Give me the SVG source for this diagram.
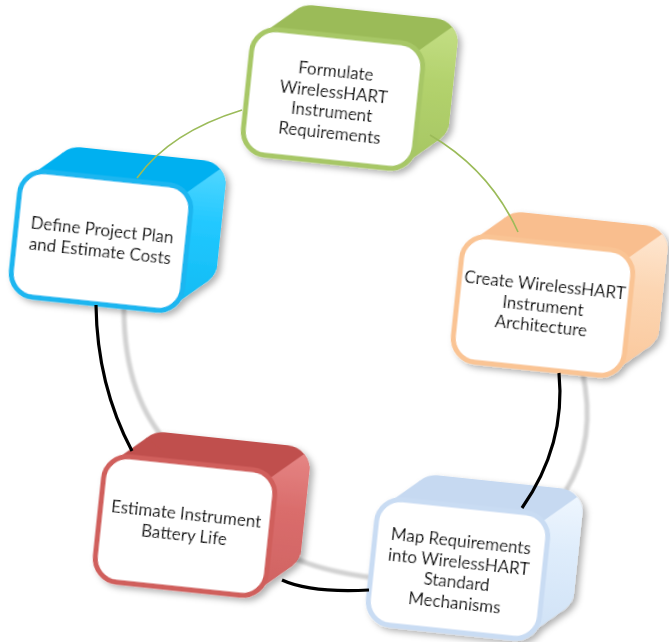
<svg xmlns="http://www.w3.org/2000/svg" xmlns:xlink="http://www.w3.org/1999/xlink" width="669" height="642" viewBox="0 0 669 642">
<style>
.lbl{font-family:Lato,"Liberation Sans",sans-serif;font-size:17px;fill:#111;text-anchor:middle}
.front{fill:#fff;stroke-width:5}
.ring{fill:none;stroke:#d2d2d2;stroke-width:5;stroke-linecap:round}
.gline{fill:none;stroke:#9bbb59;stroke-width:1.6}
.bline{fill:none;stroke:#000;stroke-width:3.2}
</style>
<defs>
<filter id="sh" x="-20%" y="-20%" width="150%" height="150%">
<feDropShadow dx="4" dy="3" stdDeviation="3" flood-color="#000" flood-opacity="0.3"/>
</filter>
<filter id="bl" x="-20%" y="-20%" width="140%" height="140%"><feGaussianBlur stdDeviation="1.2"/></filter>
<g id="hull"><rect x="-54" y="-91" width="172" height="126" rx="24"/><polygon points="-78.97,-55.97 -46.97,-83.97 110.97,27.97 78.97,55.97"/></g>
<path id="rside" d="M78.97,-55.97 L110.97,-83.97 A24,24 0 0 1 118,-67 L118,11 A24,24 0 0 1 110.97,27.97 L78.97,55.97 A24,24 0 0 0 86,39 L86,-39 A24,24 0 0 0 78.97,-55.97 Z"/>
<linearGradient id="gG" x1="0" y1="0" x2="0" y2="1"><stop offset="0" stop-color="#c3de84"/><stop offset="0.4" stop-color="#b3d26d"/><stop offset="1" stop-color="#a6c663"/></linearGradient>
<linearGradient id="gB" x1="0" y1="0" x2="0" y2="1"><stop offset="0" stop-color="#4fd6ff"/><stop offset="0.4" stop-color="#22c8ff"/><stop offset="1" stop-color="#10bbf3"/></linearGradient>
<linearGradient id="gO" x1="0" y1="0" x2="0" y2="1"><stop offset="0" stop-color="#fee6d0"/><stop offset="0.4" stop-color="#fcd6b3"/><stop offset="1" stop-color="#fac89c"/></linearGradient>
<linearGradient id="gR" x1="0" y1="0" x2="0" y2="1"><stop offset="0" stop-color="#e58584"/><stop offset="0.4" stop-color="#da6d6c"/><stop offset="1" stop-color="#d06362"/></linearGradient>
<linearGradient id="gM" x1="0" y1="0" x2="0" y2="1"><stop offset="0" stop-color="#eef6fe"/><stop offset="0.4" stop-color="#deecfb"/><stop offset="1" stop-color="#d0e2f6"/></linearGradient>
</defs>
<g id="shadow-ring" filter="url(#bl)">
<path class="ring" d="M124,300 Q122,390 165,440"/>
<path class="ring" d="M290,556 Q320,571 375,578"/>
<path class="ring" d="M582,370 Q598,440 565,492"/>
</g>
<g id="node-formulate" transform="translate(333,99) rotate(6)" filter="url(#sh)">
<use xlink:href="#hull" fill="#9bbb59"/>
<use xlink:href="#rside" fill="url(#gG)"/>
<rect class="front" x="-86" y="-63" width="172" height="126" rx="24" stroke="#a7c766"/>
<text class="lbl" y="-22"><tspan x="0">Formulate</tspan><tspan x="0" dy="20.5">WirelessHART</tspan><tspan x="0" dy="20.5">Instrument</tspan><tspan x="0" dy="20.5">Requirements</tspan></text>
</g>
<g id="node-define" transform="translate(101,241) rotate(6)" filter="url(#sh)">
<use xlink:href="#hull" fill="#00b0f0"/>
<use xlink:href="#rside" fill="url(#gB)"/>
<rect class="front" x="-86" y="-63" width="172" height="126" rx="24" stroke="#1ab6f0"/>
<text class="lbl" y="-5"><tspan x="0">Define Project Plan</tspan><tspan x="0" dy="20.5">and Estimate Costs</tspan></text>
</g>
<g id="node-create" transform="translate(543,306) rotate(6)" filter="url(#sh)">
<use xlink:href="#hull" fill="#f9be8e"/>
<use xlink:href="#rside" fill="url(#gO)"/>
<rect class="front" x="-86" y="-63" width="172" height="126" rx="24" stroke="#fac494"/>
<text class="lbl" y="-15"><tspan x="0">Create WirelessHART</tspan><tspan x="0" dy="20.5">Instrument</tspan><tspan x="0" dy="20.5">Architecture</tspan></text>
</g>
<g id="node-estimate" transform="translate(185,526) rotate(6)" filter="url(#sh)">
<use xlink:href="#hull" fill="#c0504d"/>
<use xlink:href="#rside" fill="url(#gR)"/>
<rect class="front" x="-86" y="-63" width="172" height="126" rx="24" stroke="#d05e5c"/>
<text class="lbl" y="-6"><tspan x="0">Estimate Instrument</tspan><tspan x="0" dy="20.5">Battery Life</tspan></text>
</g>
<g id="node-map" transform="translate(458,569) rotate(6)" filter="url(#sh)">
<use xlink:href="#hull" fill="#c6d9f1"/>
<use xlink:href="#rside" fill="url(#gM)"/>
<rect class="front" x="-86" y="-63" width="172" height="126" rx="24" stroke="#c9dcf3"/>
<text class="lbl" y="-22"><tspan x="0">Map Requirements</tspan><tspan x="0" dy="20.5">into WirelessHART</tspan><tspan x="0" dy="20.5">Standard</tspan><tspan x="0" dy="20.5">Mechanisms</tspan></text>
</g>
<g id="connectors">
<path class="gline" d="M137,178 Q170,132 242,110"/>
<path class="gline" d="M430,135 Q490,170 518,232"/>
<path class="bline" d="M559,373 Q566,445 522,508"/>
<path class="bline" d="M369,590 Q310,593 282,580"/>
<path class="bline" d="M132,451 Q97,385 96,305"/>
</g>
</svg>
